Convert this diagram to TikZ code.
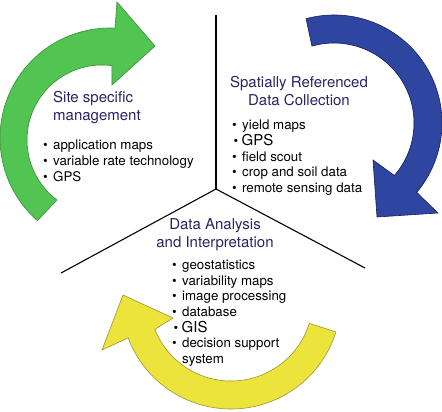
\documentclass[tikz,border=0pt]{standalone}
\usepackage{fontspec}
\setmainfont{TeX Gyre Heros}
\usepackage{tikz}
\usetikzlibrary{calc}

\definecolor{greenfill}{RGB}{82,196,82}
\definecolor{greenline}{RGB}{58,140,58}
\definecolor{bluefill}{RGB}{46,70,160}
\definecolor{blueline}{RGB}{24,28,88}
\definecolor{yellowfill}{RGB}{236,228,58}
\definecolor{yellowline}{RGB}{150,150,60}
\definecolor{titleblue}{RGB}{40,36,100}

\newcommand{\bul}{\makebox[10pt][l]{\textbullet}}
\newcommand{\tightbul}{\hspace*{1.5pt}\makebox[8pt][l]{\textbullet}}
\newcommand{\bulgap}{\hspace*{10pt}}
\newcommand{\bigitem}[1]{{\fontsize{15}{15.6}\selectfont #1}}

\begin{document}
\begin{tikzpicture}[x=1pt,y=-1pt]
    \tikzstyle{heading} = [anchor=north, align=center, inner sep=0pt, text=titleblue, font=\fontsize{15}{18}\selectfont];
    \tikzstyle{items} = [anchor=north west, align=left, inner sep=0pt, font=\fontsize{13.3}{15.6}\selectfont];
    \tikzstyle{divider} = [draw, line width=1.1pt];
    \tikzstyle{turn arrow} = [line width=0.6pt, line join=miter];
    \useasboundingbox (0,0) rectangle (442,412);
    % centres of the three arcs
    \coordinate (gout) at (110,138);
    \coordinate (gin) at (102,140);
    \coordinate (bc) at (334,123);
    \coordinate (yc) at (231,299);
    % green arrow, left
    \path[turn arrow, fill=greenfill, draw=greenline] ($(gout)+(131.3:110)$)
        arc[start angle=131.3, end angle=272.6, radius=110]
        -- (117,2) -- (155,46) -- (112,85)
        -- ($(gin)+(277.6:75)$) arc[start angle=277.6, end angle=126.9, radius=75] -- cycle;
    % blue arrow, right
    \path[turn arrow, fill=bluefill, draw=blueline] ($(bc)+(255:108)$)
        arc[start angle=255, end angle=400, radius=108]
        -- (438,213) -- (377,217) -- (373,160)
        -- ($(bc)+(401:80)$) arc[start angle=401, end angle=254, radius=80] -- cycle;
    % yellow arrow, bottom
    \path[turn arrow, fill=yellowfill, draw=yellowline] ($(yc)+(17.4:110)$)
        arc[start angle=17.4, end angle=159.3, radius=110]
        -- (102,350) -- (123,295) -- (173,318)
        -- ($(yc)+(158.3:82)$) arc[start angle=158.3, end angle=17.3, radius=82] -- cycle;
    % dividers
    \coordinate (hub) at (216,189);
    \coordinate (topend) at (216,15);
    \coordinate (leftend) at (61,273);
    \coordinate (rightend) at (365,268);
    \path[divider] (hub) -- (topend);
    \path[divider] (hub) -- (leftend);
    \path[divider] (hub) -- (rightend);
    % texts
    \node[heading, anchor=north west, align=left] (sitehead) at (53,91.5) {Site specific\\management};
    \node[items] (sitelist) at (43,140) {\bul application maps\\ \bul variable rate technology\\ \bul GPS};
    \node[heading] (datahead) at (299,76.5) {Spatially Referenced\\Data Collection};
    \node[items] (datalist) at (232,120) {\bul yield maps\\ \tightbul\bigitem{GPS}\\ \bul field scout\\ \bul crop and soil data\\ \bul remote sensing data};
    \node[heading] (analysishead) at (215,218.5) {Data Analysis\\and Interpretation};
    \node[items] (analysislist) at (172,260) {\bul geostatistics\\ \bul variability maps\\ \bul image processing\\ \bul database\\ \tightbul\bigitem{GIS}\\ \bul decision support\\ \bulgap system};
\end{tikzpicture}
\end{document}
